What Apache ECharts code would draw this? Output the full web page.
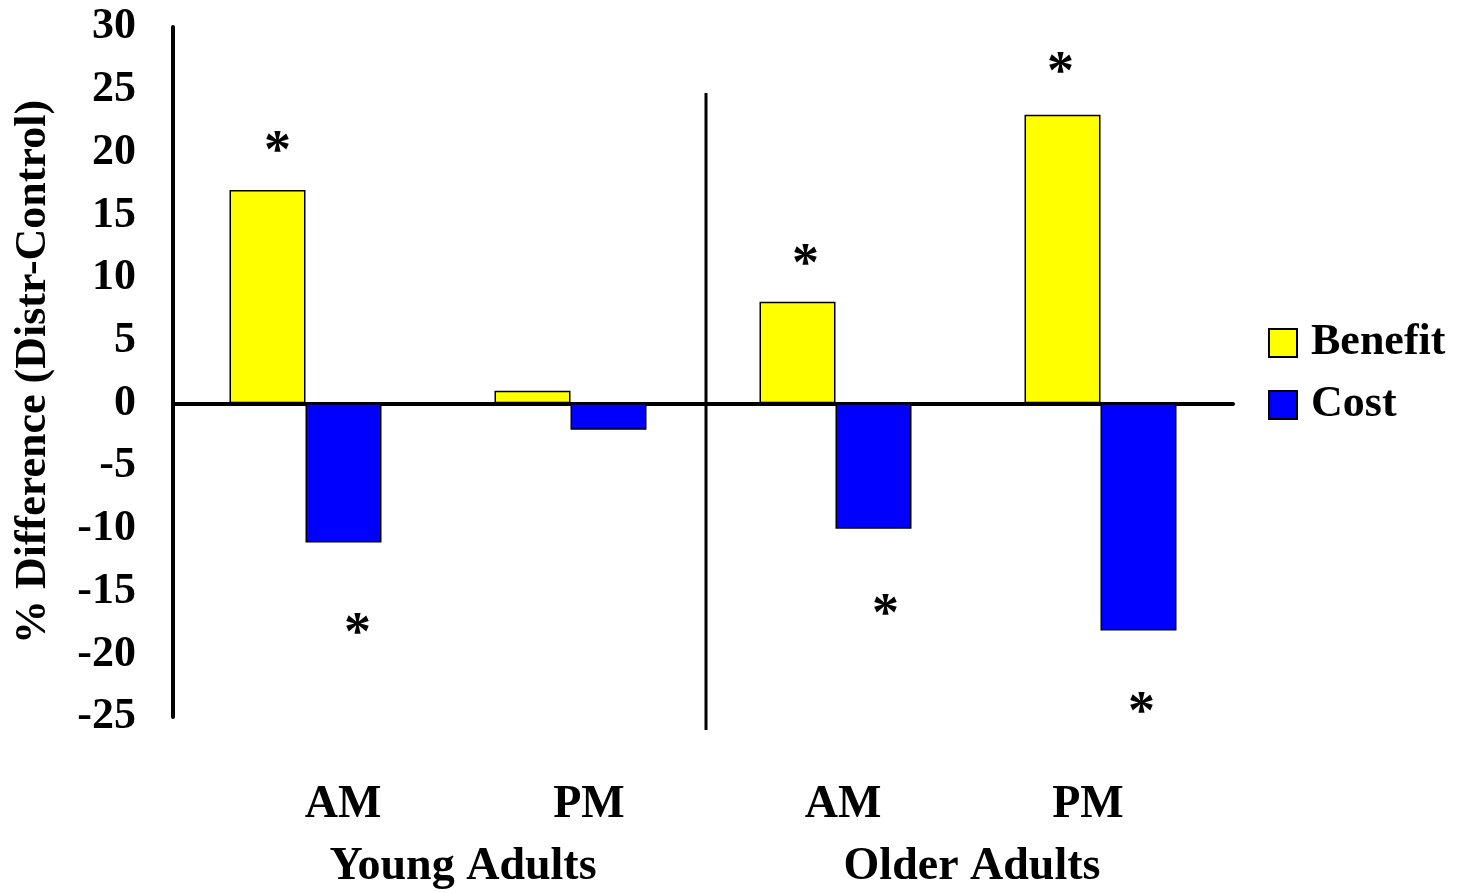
<!DOCTYPE html>
<html>
<head>
<meta charset="utf-8">
<script src="https://cdn.jsdelivr.net/npm/echarts@6/dist/echarts.min.js"></script>
<style>
html,body{margin:0;padding:0;background:#fff;}
#chart{width:1460px;height:892px;}
</style>
</head>
<body>
<div id="chart"></div>
<script>
// ---- data ----
var categories = ['AM', 'PM', 'AM', 'PM'];
var groups = ['Young Adults', 'Older Adults'];
var benefit = [17, 1, 8.1, 23];
var cost = [-11.1, -2.1, -10, -18.1];
var benefitStars = [20.6, null, 11.6, 26.9];
var costStars = [-17.8, null, -16.3, -24.1];
var yTicks = { min: -25, max: 30, interval: 5 };
var yTitle = '% Difference (Distr-Control)';

// ---- layout (pixels) ----
var FONT = "'Liberation Serif', 'Times New Roman', serif";
var catLabelX = [343, 589, 843, 1088];
var groupLabelX = [463, 972];
var benefitStarNudge = [-28, 0, -30, -40];
var costStarNudge = [52, 0, 50, 41];

function starSeries(name, vals, nudges) {
  return {
    name: name,
    type: 'scatter',
    symbolSize: 1,
    itemStyle: { color: 'rgba(0,0,0,0)', opacity: 1 },
    silent: true,
    z: 5,
    data: vals.map(function (v, i) {
      return {
        value: v,
        label: { offset: [nudges[i], 8] }
      };
    }),
    label: {
      show: true,
      position: 'inside',
      formatter: '*',
      color: '#000',
      opacity: 1,
      textBorderWidth: 0,
      fontFamily: FONT,
      fontWeight: 'bold',
      fontSize: 54
    }
  };
}

var graphics = [];
categories.forEach(function (c, i) {
  graphics.push({
    type: 'text', x: catLabelX[i], y: 805,
    style: { text: c, font: 'bold 46px ' + FONT, fill: '#000', textAlign: 'center', textVerticalAlign: 'middle' }
  });
});
groups.forEach(function (g, i) {
  graphics.push({
    type: 'text', x: groupLabelX[i], y: 867,
    style: { text: g, font: 'bold 46px ' + FONT, fill: '#000', textAlign: 'center', textVerticalAlign: 'middle' }
  });
});
graphics.push({
  type: 'line',
  shape: { x1: 706, y1: 93, x2: 706, y2: 730 },
  style: { stroke: '#000', lineWidth: 3 },
  z: 10
});

var chart = echarts.init(document.getElementById('chart'), null, { renderer: 'canvas' });
chart.setOption({
  backgroundColor: '#fff',
  animation: false,
  grid: { left: 173, top: 27, width: 1060, height: 690, containLabel: false, outerBoundsMode: 'none' },
  legend: {
    data: ['Benefit', 'Cost'],
    orient: 'vertical',
    left: 1263,
    top: 316,
    itemWidth: 28,
    itemHeight: 28,
    itemGap: 18,
    icon: 'rect',
    textStyle: { fontFamily: FONT, fontWeight: 'bold', fontSize: 44, color: '#000', padding: [0, 0, 0, 9] }
  },
  xAxis: {
    type: 'category',
    data: categories,
    axisLine: { onZero: true, lineStyle: { color: '#000', width: 4 } },
    axisTick: { show: false },
    axisLabel: { show: false },
    splitLine: { show: false }
  },
  yAxis: {
    type: 'value',
    min: yTicks.min,
    max: yTicks.max,
    interval: yTicks.interval,
    name: yTitle,
    nameLocation: 'middle',
    nameGap: 117,
    nameRotate: 90,
    nameTextStyle: { fontFamily: FONT, fontWeight: 'bold', fontSize: 44, color: '#000' },
    axisLine: { show: true, lineStyle: { color: '#000', width: 4 } },
    axisTick: { show: false },
    splitLine: { show: false },
    axisLabel: { margin: 37, fontFamily: FONT, fontWeight: 'bold', fontSize: 44, color: '#000' }
  },
  series: [
    {
      name: 'Benefit', type: 'bar', data: benefit, barWidth: 76, barGap: '0%',
      itemStyle: { color: '#FFFF00', borderColor: '#000', borderWidth: 1.5 }
    },
    {
      name: 'Cost', type: 'bar', data: cost, barWidth: 76, barGap: '0%',
      itemStyle: { color: '#0000FF', borderColor: '#000', borderWidth: 1.5 }
    },
    starSeries('benefitStars', benefitStars, benefitStarNudge),
    starSeries('costStars', costStars, costStarNudge)
  ],
  graphic: graphics
});
</script>
</body>
</html>
